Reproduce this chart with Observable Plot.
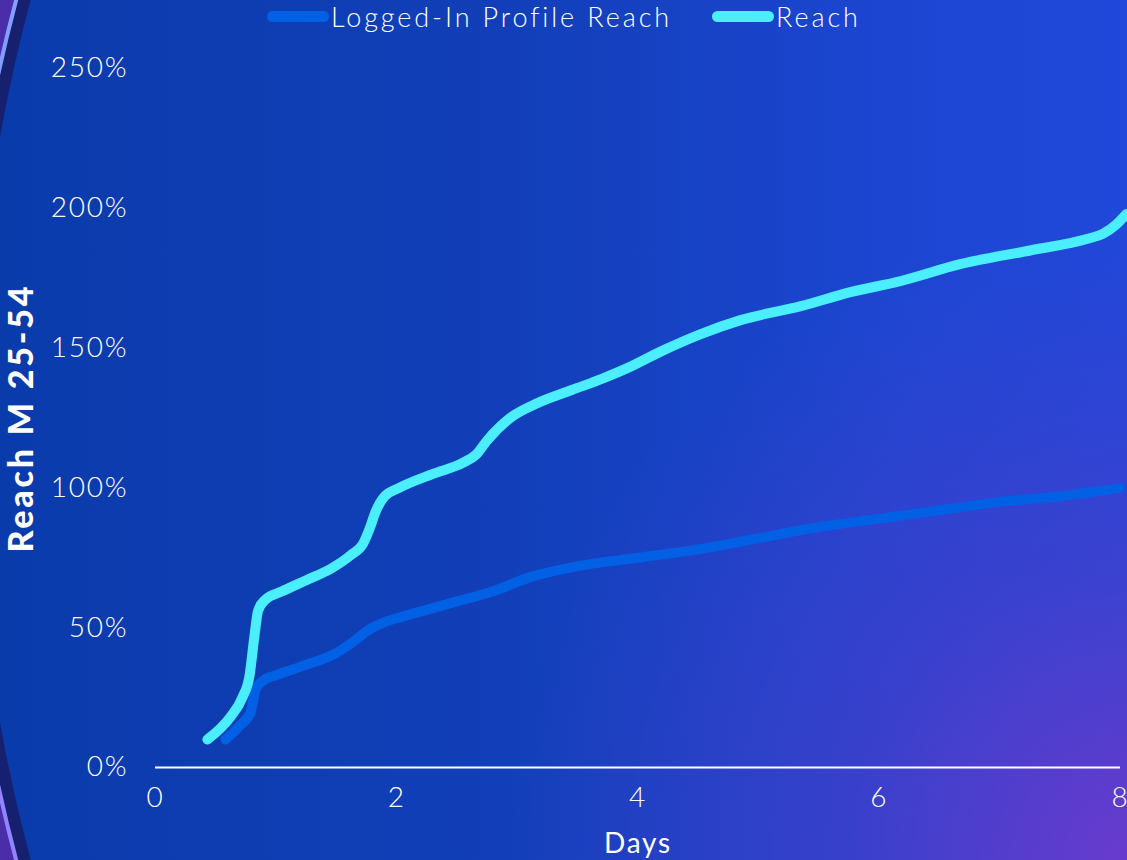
<!DOCTYPE html>
<html>
<head>
<meta charset="utf-8">
<script src="https://cdn.jsdelivr.net/npm/d3@7"></script>
<script src="https://cdn.jsdelivr.net/npm/@observablehq/plot@0.6"></script>
<style>
  html, body { margin: 0; padding: 0; }
  body {
    width: 1127px; height: 860px; overflow: hidden; position: relative;
    font-family: Lato, "Open Sans", sans-serif;
    background:
      radial-gradient(ellipse 55% 75% at 100% 100%, rgba(108,58,204,0.95) 0%, rgba(80,60,200,0.55) 45%, rgba(60,60,200,0) 100%),
      linear-gradient(90deg, #0a3bab 0%, #123fb9 45%, #1c46d2 80%, #2048da 100%);
  }
  #deco { position: absolute; left: 0; top: 0; pointer-events: none; }
  #legend {
    position: relative; height: 30px;
    color: #fff; font-size: 27px; font-weight: 300; line-height: 1; letter-spacing: 2.9px;
  }
  .item { position: absolute; top: 2px; height: 28px; display: flex; align-items: center; }
  .sw { width: 62px; height: 11px; border-radius: 6px; margin-right: 2px; }
  #chart { position: relative; }
</style>
</head>
<body>
<svg id="deco" width="1127" height="860">
  <defs>
    <linearGradient id="edge" x1="0" y1="0" x2="0" y2="1">
      <stop offset="0" stop-color="#a9d4ff"/>
      <stop offset="0.5" stop-color="#7a8cff"/>
      <stop offset="1" stop-color="#e466f2"/>
    </linearGradient>
  </defs>
  <circle cx="1634" cy="430" r="1683" fill="none" stroke="#5a2aa8" stroke-width="14" opacity="0.8"/>
  <circle cx="1634" cy="430" r="1666" fill="none" stroke="#16206e" stroke-width="12"/>
  <circle cx="1634" cy="430" r="1674" fill="none" stroke="url(#edge)" stroke-width="4"/>
</svg>
<div id="legend"></div>
<div id="chart"></div>
<script>
// Series names and colours
const seriesNames = ["Logged-In Profile Reach", "Reach"];
const seriesColors = ["#0160e4", "#4aeefd"];

// Axis ticks
const xTicks = [0, 2, 4, 6, 8];
const yTicks = [0, 50, 100, 150, 200, 250];

// Reach (cyan) — days / percent
const reachDays   = [0.43, 0.62, 0.72, 0.78, 0.82, 0.85, 0.91, 1.05, 1.25, 1.45, 1.62, 1.72, 1.78, 1.82, 1.90, 2.02, 2.30, 2.55, 2.66, 2.75, 2.94, 3.15, 3.45, 3.70, 3.92, 4.20, 4.52, 4.85, 5.35, 5.76, 6.18, 6.67, 7.26, 7.72, 7.86, 7.96, 8.05];
const reachValues = [10,   18,   25,   33,   47,   56,   60,   63,   67,   71,   76,   80,   86,   91,   97,   100,  105,  109,  112,  117,  125,  130,  135,  139,  143,  149,  155,  160,  165,  170,  174,  180,  185,  189,  191,  194,  198];

// Logged-In Profile Reach (blue) — days / percent
const loggedDays   = [0.58, 0.70, 0.79, 0.83, 0.89, 1.00, 1.20, 1.50, 1.64, 1.76, 1.90, 2.05, 2.30, 2.55, 2.80, 3.10, 3.50, 4.00, 4.50, 5.00, 5.50, 6.00, 6.50, 7.00, 7.50, 8.00];
const loggedValues = [10,   15,   20,   28,   31,   33,   36,   41,   45,   49,   52,   54,   57,   60,   63,   68,   72,   75,   78,   82,   86,   89,   92,   95,   97,   100];

const rows = [
  ...loggedDays.map((d, i) => ({series: seriesNames[0], day: d, value: loggedValues[i]})),
  ...reachDays.map((d, i) => ({series: seriesNames[1], day: d, value: reachValues[i]}))
];

// Legend
const legendPos = [267, 712];
const legend = document.getElementById("legend");
seriesNames.forEach((name, i) => {
  const it = document.createElement("div");
  it.className = "item";
  it.style.left = legendPos[i] + "px";
  it.innerHTML = `<span class="sw" style="background:${seriesColors[i]}"></span><span>${name}</span>`;
  legend.appendChild(it);
});

const chart = Plot.plot({
  width: 1127,
  height: 830,
  marginLeft: 155,
  marginRight: 7,
  marginTop: 38,
  marginBottom: 93,
  style: {background: "transparent", color: "#fff", fontFamily: "Lato, 'Open Sans', sans-serif", fontSize: "28px", fontWeight: 300, letterSpacing: "1.8px", overflow: "visible"},
  x: {domain: [0, 8]},
  y: {domain: [0, 250]},
  color: {domain: seriesNames, range: seriesColors},
  marks: [
    Plot.axisX({ticks: xTicks, tickSize: 0, tickPadding: 20, label: null, fontSize: 28}),
    Plot.axisY({ticks: yTicks, tickSize: 0, tickPadding: 27, tickFormat: d => d + "%", label: null, fontSize: 28}),
    Plot.ruleY([0], {stroke: "#fff", strokeWidth: 2}),
    Plot.line(rows, {x: "day", y: "value", z: "series", stroke: "series", strokeWidth: 10, strokeLinecap: "round", strokeLinejoin: "round", curve: "monotone-x"}),
    Plot.text(["Days"], {frameAnchor: "bottom", dy: 77, lineAnchor: "middle", fontSize: 28, fontWeight: 400, fill: "#fff"}),
    Plot.text(["Reach M 25-54"], {frameAnchor: "left", textAnchor: "middle", rotate: -90, dx: -133, lineAnchor: "middle", fontSize: 34, fontWeight: 900, fill: "#fff"})
  ]
});
chart.querySelectorAll("text").forEach(t => {
  if (t.textContent === "Reach M 25-54") t.style.letterSpacing = "2.8px";
});
document.getElementById("chart").appendChild(chart);
</script>
</body>
</html>
